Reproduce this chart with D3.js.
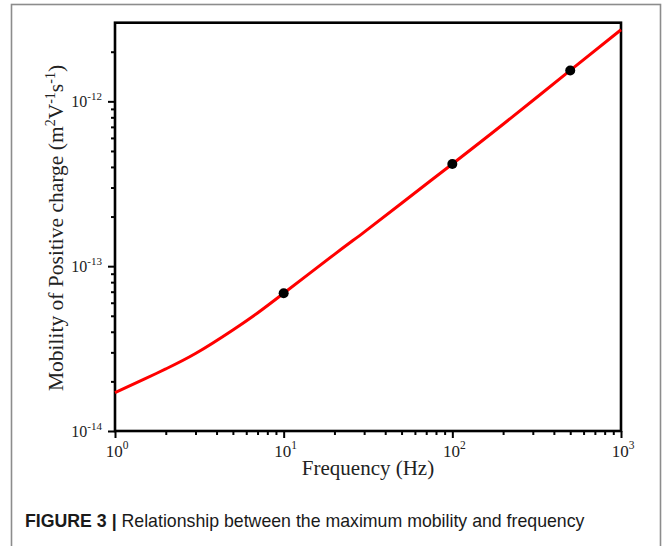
<!DOCTYPE html>
<html>
<head>
<meta charset="utf-8">
<script src="https://cdn.jsdelivr.net/npm/d3@7"></script>
<style>
  body { margin: 0; background: #fff; }
  svg { display: block; }
</style>
</head>
<body>
<div id="chart"></div>
<script>
// values
const freq = [1, 1.5, 2, 3, 5, 7, 10, 20, 30, 50, 100, 200, 500, 1000];
const mobility = [1.71e-14, 2.07e-14, 2.38e-14, 2.95e-14, 4.1e-14, 5.2e-14, 6.85e-14,
                  1.18e-13, 1.61e-13, 2.41e-13, 4.17e-13, 7.26e-13, 1.54e-12, 2.72e-12];
const markFreq = [10, 100, 500];
const markMobility = [6.85e-14, 4.17e-13, 1.54e-12];
const xExponents = [0, 1, 2, 3];
const yExponents = [-14, -13, -12];

const W = 664, H = 546;
const margin = {top: 22.7, right: 43, bottom: 115, left: 115};

const svg = d3.select("#chart").append("svg")
    .attr("width", W)
    .attr("height", H);

// grey frame round the figure
svg.append("rect")
    .attr("x", 11.5).attr("y", 4.5)
    .attr("width", 649).attr("height", 600)
    .attr("fill", "none")
    .attr("stroke", "#8c8c8c")
    .attr("stroke-width", 1.6);

const xScale = d3.scaleLog()
    .domain([1, 1000])
    .range([margin.left, W - margin.right]);

const yScale = d3.scaleLog()
    .domain([1e-14, 3e-12])
    .range([H - margin.bottom, margin.top]);

const x0 = xScale.range()[0], x1 = xScale.range()[1];
const y0 = yScale.range()[0], y1 = yScale.range()[1];

// minor ticks
const xMinor = [];
[1, 10, 100].forEach(d => { for (let k = 2; k <= 9; k++) xMinor.push(d * k); });
const yMinor = [];
[1e-14, 1e-13, 1e-12].forEach(d => { for (let k = 2; k <= 9; k++) if (d * k <= 3e-12 * 0.999) yMinor.push(d * k); });

const tickStyle = g => {
    g.select(".domain").remove();
    g.selectAll(".tick line").attr("stroke", "#000").attr("stroke-width", 2);
    g.selectAll(".tick text").remove();
};

svg.append("g")
    .attr("transform", `translate(0, ${y0})`)
    .call(d3.axisBottom(xScale).tickValues(xMinor).tickSize(4).tickFormat(""))
    .call(tickStyle);
svg.append("g")
    .attr("transform", `translate(0, ${y0})`)
    .call(d3.axisBottom(xScale).tickValues(xExponents.map(e => Math.pow(10, e))).tickSize(7).tickFormat(""))
    .call(tickStyle);

svg.append("g")
    .attr("transform", `translate(${x0}, 0)`)
    .call(d3.axisLeft(yScale).tickValues(yMinor).tickSize(4).tickFormat(""))
    .call(tickStyle);
svg.append("g")
    .attr("transform", `translate(${x0}, 0)`)
    .call(d3.axisLeft(yScale).tickValues(yExponents.map(e => Math.pow(10, e))).tickSize(7).tickFormat(""))
    .call(tickStyle);

// frame of the plot
svg.append("rect")
    .attr("x", x0).attr("y", y1)
    .attr("width", x1 - x0).attr("height", y0 - y1)
    .attr("fill", "none")
    .attr("stroke", "#000")
    .attr("stroke-width", 2.6);

const serif = "'Liberation Serif', 'Times New Roman', serif";

// x tick labels
xExponents.forEach(e => {
    const t = svg.append("text")
        .attr("x", xScale(Math.pow(10, e)) + 2)
        .attr("y", y0 + 26)
        .attr("text-anchor", "middle")
        .attr("font-family", serif)
        .attr("font-size", 17)
        .attr("fill", "#222");
    t.append("tspan").text("10");
    t.append("tspan").attr("dy", -8).attr("font-size", 11.5).text(e);
});

// y tick labels
yExponents.forEach(e => {
    const t = svg.append("text")
        .attr("x", x0 - 13)
        .attr("y", yScale(Math.pow(10, e)) + 6)
        .attr("text-anchor", "end")
        .attr("font-family", serif)
        .attr("font-size", 16)
        .attr("fill", "#222");
    t.append("tspan").text("10");
    t.append("tspan").attr("dy", -7).attr("font-size", 11).text(e);
});

// axis titles
svg.append("text")
    .attr("x", 368)
    .attr("y", 475)
    .attr("text-anchor", "middle")
    .attr("font-family", serif)
    .attr("font-size", 21)
    .attr("fill", "#222")
    .text("Frequency (Hz)");

const yt = svg.append("text")
    .attr("transform", `translate(63, 228) rotate(-90)`)
    .attr("text-anchor", "middle")
    .attr("font-family", serif)
    .attr("font-size", 21.5)
    .attr("fill", "#222");
yt.append("tspan").text("Mobility of Positive charge (m");
yt.append("tspan").attr("dy", -8).attr("font-size", 14).text("2");
yt.append("tspan").attr("dy", 8).text("V");
yt.append("tspan").attr("dy", -8).attr("font-size", 14).text("-1");
yt.append("tspan").attr("dy", 8).text("s");
yt.append("tspan").attr("dy", -8).attr("font-size", 14).text("-1");
yt.append("tspan").attr("dy", 8).text(")");

// curve
const series = freq.map((f, i) => ({f: f, m: mobility[i]}));
svg.append("path")
    .datum(series)
    .attr("fill", "none")
    .attr("stroke", "#ff0000")
    .attr("stroke-width", 3)
    .attr("d", d3.line()
        .x(d => xScale(d.f))
        .y(d => yScale(d.m))
        .curve(d3.curveNatural));

// marked points
svg.selectAll(".pt")
    .data(markFreq.map((f, i) => ({f: f, m: markMobility[i]})))
    .enter().append("circle")
    .attr("class", "pt")
    .attr("cx", d => xScale(d.f))
    .attr("cy", d => yScale(d.m))
    .attr("r", 5)
    .attr("fill", "#000");

// caption
const cap = svg.append("text")
    .attr("x", 25)
    .attr("y", 527)
    .attr("font-family", "'Liberation Sans', Arial, sans-serif")
    .attr("font-size", 16)
    .attr("fill", "#1a1a1a");
cap.append("tspan").attr("font-weight", "bold").text("FIGURE 3 | ");
cap.append("tspan").text("Relationship between the maximum mobility and frequency");
const capW = cap.node().getComputedTextLength();
cap.attr("font-size", 16 * 560 / capW);
</script>
</body>
</html>
